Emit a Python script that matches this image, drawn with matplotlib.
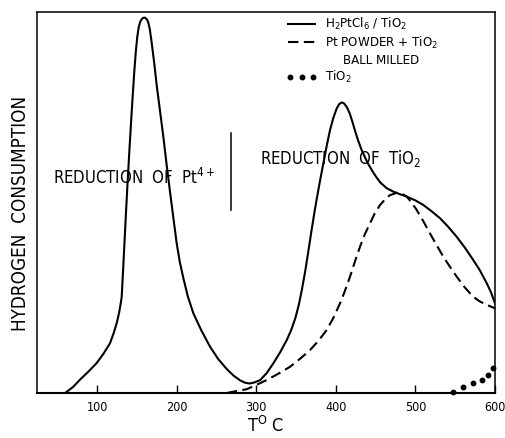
import matplotlib
matplotlib.use("Agg")
import matplotlib.pyplot as plt

plt.rcParams['font.family'] = ['DejaVu Sans']
plt.rcParams['font.stretch'] = 'condensed'

# Solid: H2PtCl6 / TiO2
solid_T = [60, 70, 78.6, 90, 99.6, 108, 116.3, 121, 125, 127.8, 129.6, 131, 132.8, 134.6, 136.4,
           138.3, 140.3, 142.4, 144.6, 146.8, 148.8, 150.6, 152.3, 154.2, 156.5, 158.5, 160.3,
           162.5, 164.5, 166.3, 168, 170, 172, 175, 179, 183.3, 187.5, 191.7, 196, 200.1, 204,
           208.4, 214, 221, 231, 242, 252, 263, 272, 280, 286, 292, 298, 305, 313, 321.5, 330,
           338.3, 344, 349, 353.5, 357.5, 361.5, 365.5, 369.5, 373.5, 377.5, 381, 384.3, 388.5,
           392.7, 397, 401.1, 404, 407.4, 410.5, 413.7, 417.5, 421, 424.5, 428, 432, 436.5, 441,
           446, 451, 456, 464, 472.4, 481, 489.1, 500, 510, 520, 531, 541, 552, 562, 572.7, 581,
           589.6, 595, 600]
solid_V = [0, 1.6, 3.5, 5.8, 7.9, 10.3, 13.1, 15.8, 18.6, 21.2, 23.4, 25.3, 32.5, 40, 47.5,
           55, 62.5, 70, 77.5, 84.5, 90, 93.8, 96.2, 97.7, 98.5, 98.8, 98.8,
           98.4, 97.5, 95.8, 93.3, 90.0, 86.6, 81, 74.5, 67.5, 60, 53, 46, 39.4, 34.5,
           30.3, 25.5, 21, 16.5, 12.2, 9, 6.3, 4.5, 3.3, 2.7, 2.5, 2.8, 3.4, 5.2, 7.8, 10.7,
           13.9, 16.6, 19.6, 23.2, 27.3, 32, 37.3, 42.8, 48, 52.8, 56.8, 60.4, 65,
           69.2, 72.5, 74.9, 76, 76.5, 76.2, 75.3, 73.6, 71.3, 68.8, 66.5, 64.2, 62.1, 60.2,
           58.4, 56.8, 55.4, 53.9, 53, 52.3, 51.7, 50.7, 49.5, 47.9, 46, 43.8, 41.1, 38.3, 35, 32.3,
           28.9, 26.5, 23.6]

# Dashed: Pt powder + TiO2 ball milled
dash_T = [263, 275, 288, 300, 313, 328, 342.5, 355, 367.6, 378, 388.6, 397, 405.3, 411.5, 417.8,
          424, 430.4, 436.5, 443, 449, 455.6, 462, 468.1, 476.5, 483, 489.1, 495, 501.6, 510,
          518.3, 526.5, 535, 543.5, 552, 562, 572.7, 581, 589.6, 600]
dash_V = [0, 0.5, 1.0, 2.1, 3.4, 5.1, 6.9, 9, 11.3, 13.7, 16.6, 19.8, 23.6, 26.9, 30.6,
          34.6, 38.5, 41.8, 44.7, 47.3, 49.5, 51, 52.1, 52.7, 52.5, 51.7, 50.2, 48.2, 45.2,
          42, 39, 35.9, 33.2, 30.6, 27.8, 25.3, 24.1, 23.2, 22.3]

# Dotted: TiO2
dot_T = [547.7, 560.2, 572.7, 583.3, 591.6, 598]
dot_V = [0.3, 1.7, 2.6, 3.4, 4.7, 6.5]

xticks = [100, 200, 300, 400, 500, 600]
labels = ["H$_2$PtCl$_6$ / TiO$_2$", "Pt POWDER + TiO$_2$\nBALL MILLED", "TiO$_2$"]

fig = plt.figure(figsize=(5.06, 4.38), dpi=100)
ax = fig.add_axes([37/506, 1 - 393/438, (495-37)/506, (393-12)/438])

DASH = (5, 2.6)
ax.plot(solid_T, solid_V, color='black', lw=1.5, solid_joinstyle='round')
ax.plot(dash_T, dash_V, color='black', lw=1.5, dashes=DASH)
ax.plot(dot_T, dot_V, linestyle='none', marker='o', ms=3.2, color='black', clip_on=False)

ax.set_xlim(24.6, 600)
ax.set_ylim(0, 100.3)
ax.set_xticks(xticks)
ax.set_yticks([])
ax.tick_params(axis='x', direction='in', length=6, width=1.0, pad=6, labelsize=9)
for s in ax.spines.values():
    s.set_linewidth(1.1)
ax.spines['bottom'].set_linewidth(1.5)

ax.set_xlabel("T$^{\\mathrm{O}}$ C", fontsize=13, labelpad=1)
ax.set_ylabel("HYDROGEN  CONSUMPTION", fontsize=13.5)
ax.yaxis.set_label_coords(-0.016, 0.471)

ax.text(44.7, 56.6, "REDUCTION  OF  Pt$^{4+}$", fontsize=12, ha='left', va='center')
ax.plot([268, 268], [48.2, 68.4], color='black', lw=1.1)
ax.text(304.8, 61.8, "REDUCTION  OF  TiO$_2$", fontsize=12, ha='left', va='center')

# Legend (manual)
tr = ax.transAxes
def ax_x(px):
    return (px - 37) / 458
def ax_y(py):
    return (393 - py) / 381
ax.plot([ax_x(288), ax_x(315)], [ax_y(24), ax_y(24)], transform=tr, color='black', lw=1.5)
ax.plot([ax_x(288), ax_x(315)], [ax_y(41.7), ax_y(41.7)], transform=tr, color='black', lw=1.5, dashes=DASH)
ax.plot([ax_x(290), ax_x(301.7), ax_x(313.3)], [ax_y(76.7)] * 3, transform=tr, linestyle='none',
        marker='o', ms=3.2, color='black')
ax.text(ax_x(325), ax_y(24), labels[0], transform=tr, fontsize=9.5, ha='left', va='center')
ax.text(ax_x(325), ax_y(50.5), labels[1], transform=tr, fontsize=9.5, ha='left', va='center',
        multialignment='center', linespacing=1.3)
ax.text(ax_x(325), ax_y(76.7), labels[2], transform=tr, fontsize=9.5, ha='left', va='center')

fig.savefig("out.png", dpi=100)
